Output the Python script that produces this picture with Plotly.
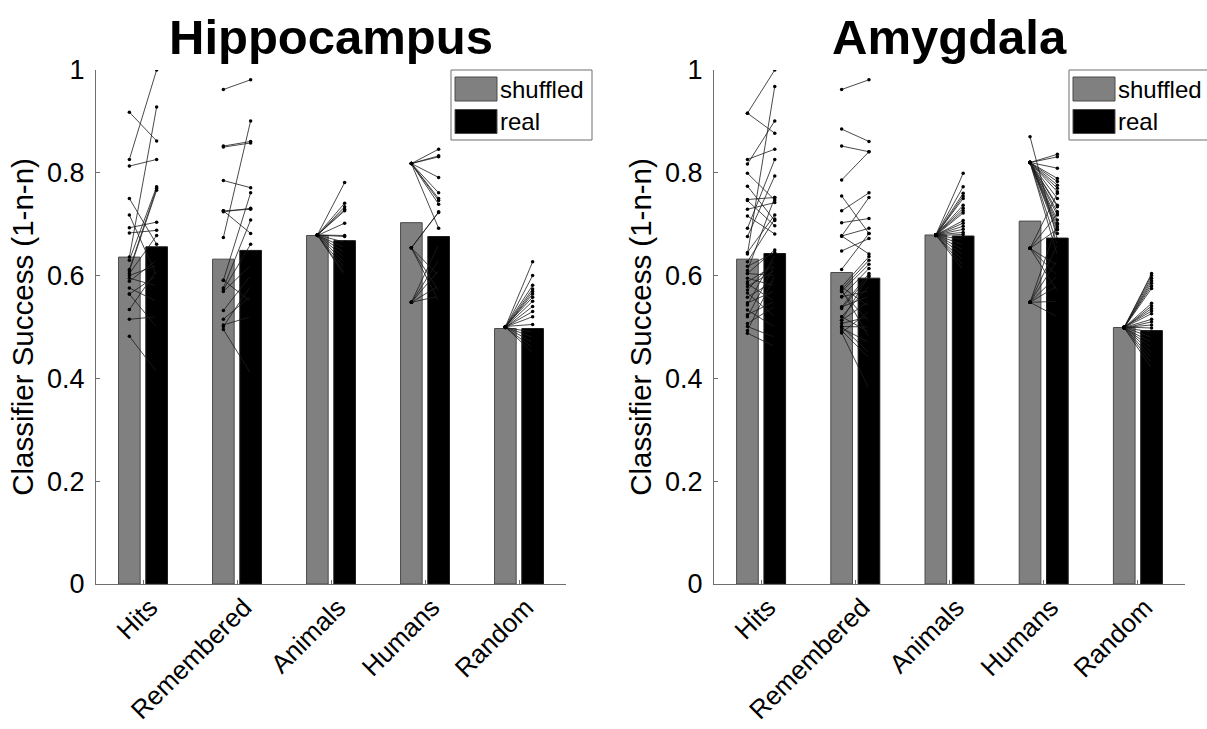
import plotly.graph_objects as go

# ---------------------------------------------------------------- data
CATEGORIES = ["Hits", "Remembered", "Animals", "Humans", "Random"]
SERIES = ["shuffled", "real"]
Y_TICKS = [0, 0.2, 0.4, 0.6, 0.8, 1]
Y_TICK_TEXT = ["0", "0.2", "0.4", "0.6", "0.8", "1"]
REGIONS = ["Hippocampus", "Amygdala"]

# mean classifier success per category (bars)
HIP_BAR_SHUF = [0.636, 0.632, 0.678, 0.703, 0.497]
HIP_BAR_REAL = [0.656, 0.649, 0.668, 0.676, 0.497]
AMY_BAR_SHUF = [0.632, 0.606, 0.679, 0.706, 0.499]
AMY_BAR_REAL = [0.643, 0.595, 0.677, 0.673, 0.493]

# per-session values, shuffled -> real (Hippocampus)
HIP_HITS_SHUF = [0.826, 0.918, 0.813, 0.636, 0.750, 0.693, 0.683, 0.718, 0.630, 0.612, 0.609,
                 0.604, 0.600, 0.595, 0.589, 0.576, 0.564, 0.534, 0.515, 0.482, 0.564]
HIP_HITS_REAL = [1.000, 0.862, 0.826, 0.928, 0.661, 0.704, 0.688, 0.600, 0.773, 0.770, 0.766,
                 0.678, 0.620, 0.580, 0.630, 0.550, 0.600, 0.610, 0.520, 0.413, 0.500]
HIP_REM_SHUF = [0.962, 0.852, 0.850, 0.674, 0.785, 0.726, 0.724, 0.726, 0.591, 0.576, 0.572,
                0.569, 0.532, 0.515, 0.504, 0.501, 0.495, 0.591]
HIP_REM_REAL = [0.981, 0.861, 0.858, 0.901, 0.771, 0.729, 0.731, 0.682, 0.761, 0.708, 0.661,
                0.620, 0.600, 0.560, 0.520, 0.580, 0.410, 0.550]
HIP_ANI_SHUF = [0.679, 0.679, 0.678, 0.679, 0.679, 0.678, 0.679, 0.679, 0.679, 0.678, 0.679,
                0.679, 0.679, 0.678, 0.679, 0.679]
HIP_ANI_REAL = [0.781, 0.741, 0.734, 0.729, 0.726, 0.702, 0.678, 0.676, 0.665, 0.655, 0.645,
                0.635, 0.625, 0.615, 0.605, 0.600]
HIP_HUM_SHUF = [0.818, 0.818, 0.818, 0.818, 0.818, 0.818, 0.818, 0.818, 0.818, 0.654, 0.654,
                0.654, 0.654, 0.654, 0.548, 0.548, 0.548, 0.548, 0.548]
HIP_HUM_REAL = [0.846, 0.833, 0.831, 0.791, 0.761, 0.750, 0.746, 0.739, 0.692, 0.724, 0.723,
                0.600, 0.570, 0.550, 0.660, 0.630, 0.610, 0.580, 0.560]
HIP_RAN_SHUF = [0.500, 0.499, 0.501, 0.500, 0.499, 0.500, 0.501, 0.500, 0.499, 0.500, 0.500,
                0.501, 0.499, 0.500, 0.500, 0.499, 0.500]
HIP_RAN_REAL = [0.627, 0.600, 0.581, 0.574, 0.569, 0.564, 0.558, 0.550, 0.540, 0.530, 0.520,
                0.505, 0.490, 0.480, 0.470, 0.460, 0.450]

# per-session values, shuffled -> real (Amygdala)
AMY_HITS_SHUF = [0.916, 0.916, 0.642, 0.826, 0.817, 0.799, 0.774, 0.748, 0.746, 0.729, 0.716,
                 0.692, 0.676, 0.645, 0.627, 0.618, 0.610, 0.604, 0.595, 0.588, 0.584, 0.579,
                 0.572, 0.566, 0.558, 0.547, 0.543, 0.533, 0.524, 0.520, 0.507, 0.501, 0.493,
                 0.488, 0.604]
AMY_HITS_REAL = [1.000, 0.877, 0.968, 0.846, 0.901, 0.747, 0.707, 0.752, 0.697, 0.742, 0.681,
                 0.826, 0.794, 0.718, 0.710, 0.645, 0.752, 0.600, 0.580, 0.620, 0.550, 0.610,
                 0.630, 0.520, 0.590, 0.570, 0.640, 0.500, 0.550, 0.620, 0.540, 0.480, 0.600,
                 0.462, 0.650]
AMY_REM_SHUF = [0.962, 0.885, 0.852, 0.786, 0.755, 0.726, 0.703, 0.677, 0.677, 0.677, 0.648,
                0.612, 0.578, 0.573, 0.569, 0.559, 0.539, 0.536, 0.520, 0.513, 0.507, 0.501,
                0.498, 0.493, 0.489, 0.578, 0.569, 0.559, 0.539, 0.520, 0.513, 0.501, 0.489,
                0.573]
AMY_REM_REAL = [0.981, 0.861, 0.841, 0.841, 0.682, 0.761, 0.711, 0.752, 0.692, 0.642, 0.672,
                0.682, 0.637, 0.630, 0.622, 0.614, 0.604, 0.598, 0.580, 0.550, 0.520, 0.500,
                0.470, 0.440, 0.380, 0.540, 0.510, 0.570, 0.560, 0.490, 0.600, 0.450, 0.530,
                0.480]
AMY_ANI_SHUF = [0.679, 0.679, 0.679, 0.678, 0.679, 0.679, 0.679, 0.679, 0.678, 0.679, 0.679,
                0.679, 0.679, 0.679, 0.678, 0.679, 0.679, 0.679, 0.679, 0.678, 0.679, 0.679]
AMY_ANI_REAL = [0.799, 0.773, 0.760, 0.755, 0.750, 0.737, 0.731, 0.726, 0.722, 0.707, 0.702,
                0.696, 0.690, 0.684, 0.680, 0.670, 0.660, 0.650, 0.640, 0.630, 0.620, 0.611]
AMY_HUM_SHUF = [0.820, 0.820, 0.820, 0.820, 0.820, 0.820, 0.820, 0.820, 0.820, 0.820, 0.820,
                0.820, 0.820, 0.820, 0.820, 0.820, 0.820, 0.820, 0.820, 0.820, 0.870, 0.653,
                0.653, 0.653, 0.653, 0.653, 0.653, 0.548, 0.548, 0.548, 0.548, 0.548, 0.548,
                0.548]
AMY_HUM_REAL = [0.836, 0.831, 0.809, 0.789, 0.783, 0.776, 0.770, 0.763, 0.750, 0.737, 0.734,
                0.724, 0.718, 0.708, 0.702, 0.695, 0.689, 0.682, 0.660, 0.640, 0.670, 0.760,
                0.720, 0.690, 0.620, 0.600, 0.570, 0.700, 0.660, 0.630, 0.600, 0.580, 0.550,
                0.520]
AMY_RAN_SHUF = [0.499, 0.500, 0.499, 0.498, 0.499, 0.500, 0.499, 0.499, 0.498, 0.499, 0.500,
                0.499, 0.499, 0.498, 0.499, 0.500, 0.499, 0.499, 0.498, 0.499, 0.500, 0.499,
                0.499, 0.498]
AMY_RAN_REAL = [0.604, 0.600, 0.595, 0.590, 0.585, 0.580, 0.575, 0.546, 0.541, 0.536, 0.531,
                0.526, 0.515, 0.510, 0.504, 0.498, 0.490, 0.480, 0.470, 0.460, 0.450, 0.440,
                0.430, 0.420]

HIP_SESSIONS = [(HIP_HITS_SHUF, HIP_HITS_REAL), (HIP_REM_SHUF, HIP_REM_REAL),
                (HIP_ANI_SHUF, HIP_ANI_REAL), (HIP_HUM_SHUF, HIP_HUM_REAL),
                (HIP_RAN_SHUF, HIP_RAN_REAL)]
AMY_SESSIONS = [(AMY_HITS_SHUF, AMY_HITS_REAL), (AMY_REM_SHUF, AMY_REM_REAL),
                (AMY_ANI_SHUF, AMY_ANI_REAL), (AMY_HUM_SHUF, AMY_HUM_REAL),
                (AMY_RAN_SHUF, AMY_RAN_REAL)]

# ---------------------------------------------------------------- style
W, H = 1207, 729
FONT = "Liberation Sans, Arial, Helvetica, sans-serif"
GRAY = "#808080"
AXIS_COLOR = "#6e6e6e"
BAR_W = 0.23
SHUF_OFF = -0.26      # left edge of shuffled bar relative to category
REAL_OFF = 0.03       # left edge of real bar relative to category
TICK_SIZE = 27
XTICK_SIZE = 26
LABEL_SIZE = 29.5
LEGEND_SIZE = 24
TITLE_SIZE = 49


def px_x(p):
    return p / W


def px_y(p):
    return 1 - p / H


Y_DOMAIN = [px_y(584), px_y(70)]
X_DOMAINS = [[px_x(96), px_x(566)], [px_x(714), px_x(1185)]]

fig = go.Figure()


def add_panel(n, bar_shuf, bar_real, sessions):
    xa = "x" if n == 1 else f"x{n}"
    ya = "y" if n == 1 else f"y{n}"
    idx = list(range(1, len(CATEGORIES) + 1))
    fig.add_bar(x=idx, y=bar_shuf, width=BAR_W, offset=SHUF_OFF, name=SERIES[0],
                marker=dict(color=GRAY, line=dict(color="#4a4a4a", width=1)),
                xaxis=xa, yaxis=ya, showlegend=False)
    fig.add_bar(x=idx, y=bar_real, width=BAR_W, offset=REAL_OFF, name=SERIES[1],
                marker=dict(color="black", line=dict(color="#1a1a1a", width=1)),
                xaxis=xa, yaxis=ya, showlegend=False)
    xs_c = SHUF_OFF + BAR_W / 2
    xr_c = REAL_OFF + BAR_W / 2
    for i, (shuf, real) in zip(idx, sessions):
        xs, ys = [], []
        for s, r in zip(shuf, real):
            xs += [i + xs_c, i + xr_c, None]
            ys += [s, r, None]
        fig.add_scatter(x=xs, y=ys, mode="lines+markers", xaxis=xa, yaxis=ya,
                        line=dict(color="#1c1c1c", width=0.8),
                        marker=dict(color="black", size=3.5),
                        showlegend=False, hoverinfo="skip")


add_panel(1, HIP_BAR_SHUF, HIP_BAR_REAL, HIP_SESSIONS)
add_panel(2, AMY_BAR_SHUF, AMY_BAR_REAL, AMY_SESSIONS)

axis_common = dict(showline=True, linecolor=AXIS_COLOR, linewidth=1, showgrid=False,
                   zeroline=False, ticks="inside", tickcolor=AXIS_COLOR, ticklen=4,
                   automargin=False)

layout = dict(template="none", width=W, height=H,
              margin=dict(l=0, r=0, t=0, b=0, pad=0, autoexpand=False),
              paper_bgcolor="white", plot_bgcolor="white", barmode="overlay",
              showlegend=False, font=dict(family=FONT, color="black"))

for n in (1, 2):
    xk = "xaxis" if n == 1 else f"xaxis{n}"
    yk = "yaxis" if n == 1 else f"yaxis{n}"
    layout[xk] = dict(axis_common, domain=X_DOMAINS[n - 1], range=[0.5, 5.5],
                      tickvals=list(range(1, 6)), ticktext=CATEGORIES, tickangle=-45,
                      ticklabelshift=7, ticklabelstandoff=-3,
                      tickfont=dict(family=FONT, size=XTICK_SIZE, color="black"),
                      anchor="y" if n == 1 else f"y{n}")
    layout[yk] = dict(axis_common, domain=Y_DOMAIN, range=[0, 1], tickvals=Y_TICKS,
                      ticktext=Y_TICK_TEXT, ticklabelstandoff=5,
                      tickfont=dict(family=FONT, size=TICK_SIZE, color="black"),
                      anchor="x" if n == 1 else f"x{n}",
                      title=dict(text="Classifier Success (1-n-n)", standoff=4,
                                 font=dict(family=FONT, size=LABEL_SIZE, color="black")))

fig.update_layout(**layout)

# panel titles
annotations = []
shapes = []
for n, region in enumerate(REGIONS):
    d = X_DOMAINS[n]
    annotations.append(dict(text=f"<b>{region}</b>", x=(d[0] + d[1]) / 2, y=px_y(37),
                            xref="paper", yref="paper", xanchor="center", yanchor="middle",
                            showarrow=False,
                            font=dict(family=FONT, size=TITLE_SIZE, color="black")))

# boxed legend in the top-right corner of each panel
LEG_LEFT = [451, 1069]
for n in range(2):
    x0 = LEG_LEFT[n]
    shapes.append(dict(type="rect", xref="paper", yref="paper",
                       x0=px_x(x0), x1=px_x(x0 + 141), y0=px_y(140), y1=px_y(70),
                       line=dict(color="#6e6e6e", width=1), fillcolor="white"))
    for k, (label, col) in enumerate(zip(SERIES, [GRAY, "black"])):
        top = 77 + k * 32.5
        shapes.append(dict(type="rect", xref="paper", yref="paper",
                           x0=px_x(x0 + 4), x1=px_x(x0 + 46), y0=px_y(top + 24), y1=px_y(top),
                           line=dict(color="#4a4a4a", width=1), fillcolor=col))
        annotations.append(dict(text=label, x=px_x(x0 + 47), y=px_y(top + 12),
                                xref="paper", yref="paper", xanchor="left", yanchor="middle",
                                showarrow=False,
                                font=dict(family=FONT, size=LEGEND_SIZE, color="black")))

fig.update_layout(annotations=annotations, shapes=shapes)
fig.write_html("out.html")
